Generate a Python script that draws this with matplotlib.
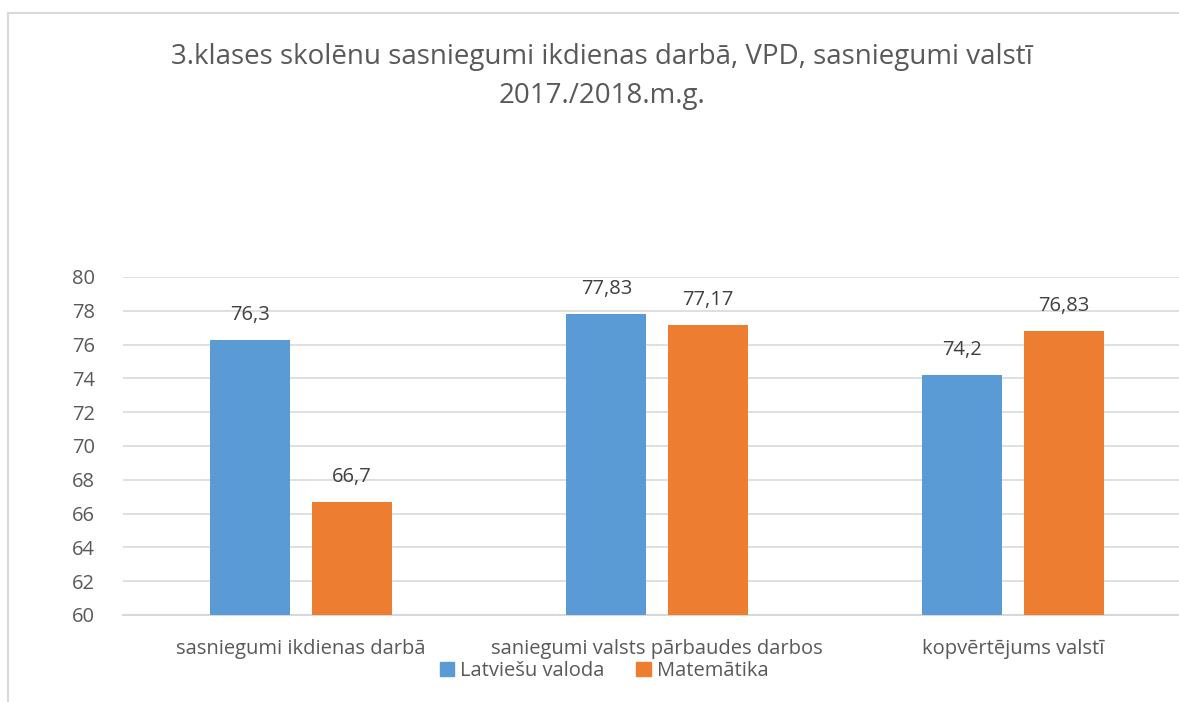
import numpy as np
import matplotlib
matplotlib.use("Agg")
import matplotlib.pyplot as plt
from matplotlib.lines import Line2D

categories = ["sasniegumi ikdienas darbā", "saniegumi valsts pārbaudes darbos", "kopvērtējums valstī"]
latviesu = [76.3, 77.83, 74.2]
matematika = [66.7, 77.17, 76.83]
series_names = ["Latviešu valoda", "Matemātika"]
yticks = [60, 62, 64, 66, 68, 70, 72, 74, 76, 78, 80]

plt.rcParams['font.family'] = ['Open Sans', 'DejaVu Sans']

W, H = 1179, 702
fig = plt.figure(figsize=(W / 100, H / 100), dpi=100)

# axes extends a bit past the right edge like the cropped original
ax = fig.add_axes([123 / W, 87 / H, 1068 / W, 338 / H])

x = np.arange(len(categories))
bw = 0.225
off = 0.142
bars1 = ax.bar(x - off, latviesu, bw, color="#5b9bd5", zorder=3)
bars2 = ax.bar(x + off, matematika, bw, color="#ed7d31", zorder=3)

def fmt(v):
    return f"{v:g}".replace(".", ",")

for bars, vals in [(bars1, latviesu), (bars2, matematika)]:
    for b, v in zip(bars, vals):
        ax.annotate(fmt(v), (b.get_x() + b.get_width() / 2, v),
                    xytext=(0, 25), textcoords="offset pixels",
                    ha="center", va="center", fontsize=14.5, color="#404040")

ax.set_xlim(-0.5, len(categories) - 0.5)
ax.set_ylim(60, 80)
ax.set_yticks(yticks)
ax.set_yticklabels([str(t) for t in yticks])
ax.set_xticks(x)
ax.set_xticklabels(categories)
ax.tick_params(axis="both", length=0, labelsize=14.5, labelcolor="#595959")
ax.tick_params(axis="y", pad=20)
ax.tick_params(axis="x", pad=17)
ax.yaxis.grid(True, color="#d9d9d9", linewidth=1.2, zorder=0)
for s in ["top", "right", "left"]:
    ax.spines[s].set_visible(False)
ax.spines["bottom"].set_color("#d9d9d9")
ax.spines["bottom"].set_linewidth(1.5)

fig.text(602 / W, 1 - 57 / H, "3.klases skolēnu sasniegumi ikdienas darbā, VPD, sasniegumi valstī",
         ha="center", va="center", fontsize=20, color="#595959")
fig.text(602 / W, 1 - 96 / H, "2017./2018.m.g.",
         ha="center", va="center", fontsize=20, color="#595959")

handles = [plt.Rectangle((0, 0), 1, 1, color="#5b9bd5"),
           plt.Rectangle((0, 0), 1, 1, color="#ed7d31")]
fig.legend(handles, series_names, loc="center", bbox_to_anchor=(604 / W, 1 - 671 / H),
           ncol=2, frameon=False, fontsize=14.5, labelcolor="#595959",
           handlelength=0.7, handleheight=0.7, handletextpad=0.3, columnspacing=1.6)

# chart border (top and left only visible in the crop)
fig.add_artist(Line2D([8 / W, 1], [1 - 13 / H, 1 - 13 / H], color="#d9d9d9", linewidth=1.5))
fig.add_artist(Line2D([8 / W, 8 / W], [0, 1 - 13 / H], color="#d9d9d9", linewidth=1.5))

fig.savefig("out.png", dpi=100)
